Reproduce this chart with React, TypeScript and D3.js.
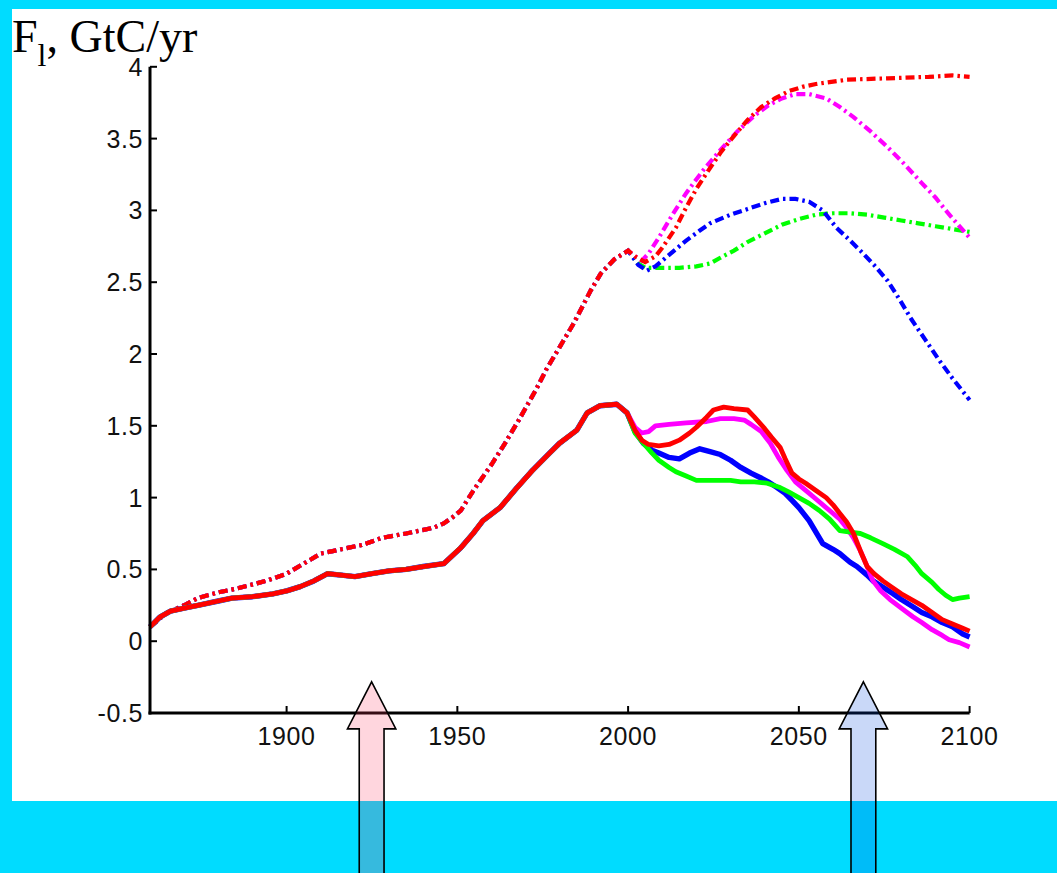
import React from "react";
import * as d3 from "d3";

type P = [number, number];

const xTicks = [1900, 1950, 2000, 2050, 2100];
const yTicks = [-0.5, 0, 0.5, 1, 1.5, 2, 2.5, 3, 3.5, 4];

const histSolid: P[] = [
  [1860, 0.10], [1863, 0.17], [1866, 0.21], [1870, 0.23], [1874, 0.25], [1880, 0.28],
  [1884, 0.30], [1890, 0.31], [1896, 0.33], [1900, 0.35], [1904, 0.38], [1908, 0.42],
  [1912, 0.47], [1916, 0.46], [1920, 0.45], [1925, 0.47], [1930, 0.49], [1935, 0.50],
  [1940, 0.52], [1946, 0.54], [1951, 0.65], [1954.6, 0.75], [1957.5, 0.84], [1962.5, 0.93],
  [1967.5, 1.07], [1972, 1.19], [1977, 1.31], [1980, 1.38], [1985, 1.47], [1988, 1.59],
  [1991.8, 1.64], [1996.7, 1.65], [1999.7, 1.59],
];

const histDash: P[] = [
  [1860, 0.10], [1865, 0.20], [1870, 0.25], [1874, 0.30], [1880, 0.34], [1886, 0.37],
  [1894, 0.42], [1900, 0.47], [1905, 0.54], [1910, 0.61], [1916, 0.64], [1922, 0.67],
  [1928, 0.72], [1935, 0.75], [1943, 0.79], [1946, 0.82], [1949, 0.87], [1951, 0.91],
  [1955, 1.06], [1960, 1.23], [1964, 1.38], [1968, 1.54], [1973, 1.75], [1976, 1.89],
  [1980, 2.05], [1984, 2.21], [1989, 2.44], [1992, 2.56], [1996, 2.66], [2000, 2.72],
];

const redDash: P[] = [
  [2002, 2.68], [2005, 2.64], [2008, 2.68], [2010, 2.74], [2014, 2.88], [2017, 3.02],
  [2020, 3.15], [2023, 3.26], [2027, 3.40], [2030, 3.49], [2035, 3.63], [2039, 3.72],
  [2043, 3.78], [2047, 3.83], [2051, 3.86], [2055, 3.88], [2064, 3.91], [2076, 3.92],
  [2088, 3.93], [2095, 3.94], [2100, 3.93],
];
const magentaDash: P[] = [
  [2002, 2.68], [2004, 2.65], [2006, 2.70], [2009, 2.81], [2013, 2.97], [2017, 3.12],
  [2022, 3.28], [2027, 3.42], [2032, 3.55], [2037, 3.66], [2041, 3.73], [2045, 3.78],
  [2049, 3.81], [2053, 3.81], [2058, 3.78], [2062, 3.72], [2066, 3.65], [2071, 3.55],
  [2076, 3.44], [2081, 3.32], [2086, 3.19], [2090, 3.09], [2093, 3.00], [2097, 2.89],
  [2100, 2.81],
];
const blueDash: P[] = [
  [2003, 2.62], [2005.5, 2.58], [2008, 2.61], [2010, 2.65], [2014, 2.73], [2017, 2.79],
  [2021, 2.86], [2024, 2.91], [2030, 2.97], [2035, 3.01], [2040, 3.05], [2045, 3.08],
  [2049, 3.08], [2053, 3.06], [2057, 3.00], [2061, 2.88], [2065, 2.79], [2068, 2.72],
  [2072, 2.62], [2076, 2.51], [2080, 2.36], [2083, 2.24], [2087, 2.10], [2091, 1.96],
  [2095, 1.83], [2100, 1.68],
];
const greenDash: P[] = [
  [2003, 2.63], [2005, 2.60], [2010, 2.60], [2015, 2.60], [2020, 2.61], [2024, 2.63],
  [2027, 2.67], [2031, 2.72], [2035, 2.78], [2040, 2.84], [2045, 2.90], [2050, 2.94],
  [2055, 2.97], [2060, 2.98], [2065, 2.98], [2070, 2.97], [2075, 2.95], [2080, 2.93],
  [2085, 2.91], [2090, 2.89], [2095, 2.87], [2100, 2.85],
];

const redSolid: P[] = [
  [2002, 1.47], [2004, 1.40], [2006, 1.37], [2009, 1.36], [2012, 1.37], [2015, 1.40],
  [2018, 1.45], [2020, 1.49], [2023, 1.56], [2025, 1.61], [2028, 1.63], [2031, 1.62],
  [2035, 1.61], [2037, 1.56], [2040, 1.48], [2042, 1.42], [2044.5, 1.35], [2046, 1.27],
  [2048, 1.17], [2050, 1.13], [2052, 1.10], [2055, 1.05], [2058, 1.00], [2060, 0.95],
  [2062, 0.89], [2064, 0.83], [2066, 0.75], [2068, 0.63], [2070, 0.52], [2072, 0.47],
  [2074.6, 0.42], [2077, 0.38], [2080, 0.33], [2083, 0.29], [2086, 0.25], [2089, 0.20],
  [2092, 0.15], [2095, 0.12], [2098, 0.09], [2100, 0.07],
];
const magentaSolid: P[] = [
  [2002, 1.49], [2004, 1.45], [2006, 1.46], [2008, 1.50], [2012, 1.51], [2017, 1.52],
  [2023, 1.53], [2027, 1.55], [2031, 1.55], [2034, 1.54], [2036, 1.51], [2039, 1.46],
  [2041.6, 1.38], [2044, 1.28], [2046.5, 1.19], [2049, 1.11], [2052, 1.05], [2055, 0.99],
  [2059, 0.91], [2062, 0.85], [2064, 0.79], [2066, 0.72], [2068, 0.63], [2070, 0.52],
  [2071.7, 0.42], [2074, 0.35], [2076.7, 0.29], [2080, 0.23], [2083.4, 0.17], [2086, 0.13],
  [2089, 0.08], [2092, 0.04], [2094, 0.01], [2097, -0.01], [2100, -0.04],
];
const blueSolid: P[] = [
  [2002, 1.46], [2004.4, 1.38], [2007, 1.33], [2009, 1.31], [2012, 1.28], [2015, 1.27],
  [2018, 1.31], [2021, 1.34], [2024, 1.32], [2027, 1.30], [2030, 1.26], [2033, 1.21],
  [2036, 1.17], [2038.6, 1.14], [2041, 1.11], [2043.6, 1.07], [2046, 1.03], [2048, 0.98],
  [2050, 0.93], [2053, 0.84], [2055, 0.76], [2057, 0.68], [2060, 0.64], [2062, 0.61],
  [2065, 0.55], [2067, 0.52], [2070, 0.46], [2071.7, 0.42], [2075, 0.37], [2077.6, 0.33],
  [2080, 0.29], [2083.4, 0.24], [2086, 0.20], [2089, 0.17], [2092, 0.13], [2095, 0.10],
  [2098, 0.05], [2100, 0.03],
];
const greenSolid: P[] = [
  [2002, 1.45], [2004.4, 1.38], [2007, 1.31], [2009, 1.26], [2012, 1.21], [2014, 1.18],
  [2017, 1.15], [2020, 1.12], [2023, 1.12], [2026, 1.12], [2030, 1.12], [2033, 1.11],
  [2037, 1.11], [2040.7, 1.10], [2044.5, 1.07], [2047, 1.04], [2050, 1.00], [2053, 0.96],
  [2056, 0.91], [2059, 0.85], [2062, 0.77], [2065, 0.76], [2068, 0.75], [2071, 0.72],
  [2074.6, 0.68], [2078, 0.64], [2081.7, 0.59], [2084, 0.53], [2086, 0.47], [2089, 0.41],
  [2091, 0.36], [2093, 0.32], [2095, 0.29], [2097, 0.30], [2100, 0.31],
];

// annotation arrows: [year, tipValue]
const arrowPink: P = [1924.9, -0.283];
const arrowBlue: P = [2068.9, -0.283];

const W = 1057;
const H = 873;
const x = d3.scaleLinear().domain([1860, 2100]).range([150, 969.6]);
const y = d3.scaleLinear().domain([-0.5, 4]).range([713, 66.8]);

const line = d3
  .line<P>()
  .x((d) => x(d[0]))
  .y((d) => y(d[1]))
  .curve(d3.curveLinear);

const DASH = "9,4,2.5,4";

function Arrow({ tip, fill }: { tip: P; fill: string }) {
  const cx = x(tip[0]);
  const ty = y(tip[1]);
  const headH = 47;
  const headHalf = 24.2;
  const shaftHalf = 12.4;
  const bottom = H + 5;
  const pts = [
    [cx, ty],
    [cx + headHalf, ty + headH],
    [cx + shaftHalf, ty + headH],
    [cx + shaftHalf, bottom],
    [cx - shaftHalf, bottom],
    [cx - shaftHalf, ty + headH],
    [cx - headHalf, ty + headH],
  ];
  return (
    <polygon
      points={pts.map((p) => p.join(",")).join(" ")}
      fill={fill}
      stroke="#000"
      strokeWidth={1.6}
      strokeLinejoin="miter"
    />
  );
}

export default function App() {
  const full = (scen: P[], hist: P[]) => [...hist, ...scen];
  const tickFont = "'Liberation Sans', Arial, Helvetica, sans-serif";
  return (
    <svg
      width={W}
      height={H}
      style={{ position: "absolute", left: 0, top: 0, display: "block" }}
    >
      <rect x={0} y={0} width={W} height={H} fill="#00dcff" />
      <rect x={12} y={9} width={W - 12} height={792} fill="#ffffff" />

      {/* dash-dot scenarios */}
      <g fill="none" strokeWidth={4.2} strokeDasharray={DASH}>
        <path d={line(full(greenDash, histDash)) || ""} stroke="#00ff00" />
        <path d={line(full(blueDash, histDash)) || ""} stroke="#0000ff" />
        <path d={line(full(magentaDash, histDash)) || ""} stroke="#ff00ff" />
        <path d={line(full(redDash, histDash)) || ""} stroke="#ff0000" />
      </g>

      {/* solid scenarios */}
      <g fill="none" strokeWidth={4.8} strokeLinejoin="round">
        <path d={line(full(blueSolid, histSolid)) || ""} stroke="#0000ff" strokeWidth={5.4} />
        <path d={line(full(magentaSolid, histSolid)) || ""} stroke="#ff00ff" />
        <path d={line(full(greenSolid, histSolid)) || ""} stroke="#00ff00" />
        <path d={line(full(redSolid, histSolid)) || ""} stroke="#ff0000" />
      </g>

      {/* axes */}
      <g stroke="#000" strokeWidth={3} fill="none">
        <line x1={x.range()[0]} x2={x.range()[0]} y1={y(4)} y2={y(-0.5) + 1.5} />
        <line x1={x.range()[0] - 1.5} x2={x(2100)} y1={y(-0.5)} y2={y(-0.5)} />
      </g>
      <g stroke="#000" strokeWidth={2}>
        {yTicks.map((t) => (
          <line key={"yt" + t} x1={x.range()[0]} x2={x.range()[0] + 7} y1={y(t)} y2={y(t)} />
        ))}
        {xTicks.map((t) => (
          <line key={"xt" + t} x1={x(t)} x2={x(t)} y1={y(-0.5)} y2={y(-0.5) - 7} />
        ))}
      </g>
      <g fontFamily={tickFont} fontSize={25} fill="#111" letterSpacing={0.6}>
        {yTicks.map((t) => (
          <text key={"yl" + t} x={x.range()[0] - 7} y={y(t)} textAnchor="end" dy="0.36em">
            {String(t)}
          </text>
        ))}
        {xTicks.map((t) => (
          <text key={"xl" + t} x={x(t)} y={y(-0.5) + 32} textAnchor="middle">
            {String(t)}
          </text>
        ))}
      </g>

      {/* title */}
      <text x={12} y={52} fontFamily="'Liberation Serif', 'Times New Roman', serif" fontSize={46} fill="#000">
        F
        <tspan fontSize={32} dy={14}>l</tspan>
        <tspan dy={-14}>, GtC/yr</tspan>
      </text>

      {/* arrows */}
      <Arrow tip={arrowPink} fill="rgba(255,60,100,0.21)" />
      <Arrow tip={arrowBlue} fill="rgba(0,69,221,0.21)" />
    </svg>
  );
}
